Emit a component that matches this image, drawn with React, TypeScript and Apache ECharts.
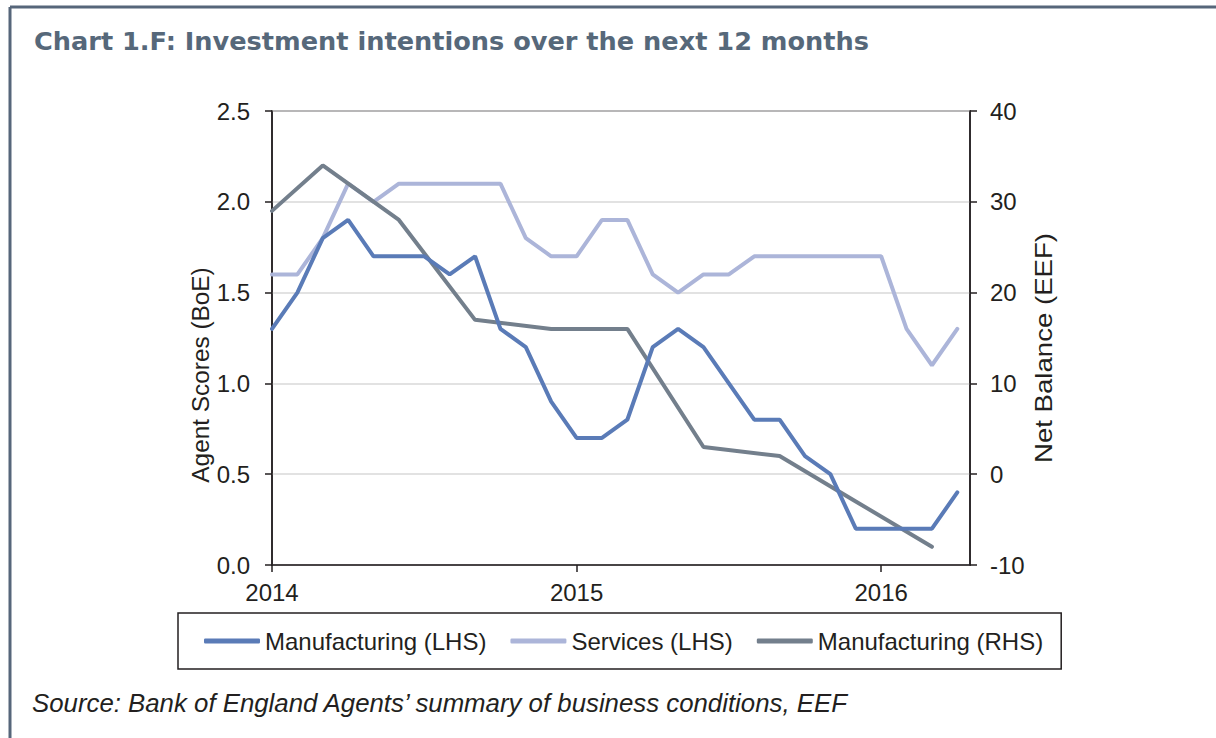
import React, { useEffect, useRef } from "react";
import * as echarts from "echarts";

const months: string[] = [
  "2014-01","2014-02","2014-03","2014-04","2014-05","2014-06","2014-07","2014-08","2014-09","2014-10","2014-11","2014-12",
  "2015-01","2015-02","2015-03","2015-04","2015-05","2015-06","2015-07","2015-08","2015-09","2015-10","2015-11","2015-12",
  "2016-01","2016-02","2016-03","2016-04",
];
const manufacturingLHS: number[] = [
  1.3, 1.5, 1.8, 1.9, 1.7, 1.7, 1.7, 1.6, 1.7, 1.3, 1.2, 0.9,
  0.7, 0.7, 0.8, 1.2, 1.3, 1.2, 1.0, 0.8, 0.8, 0.6, 0.5, 0.2,
  0.2, 0.2, 0.2, 0.4,
];
const servicesLHS: number[] = [
  1.6, 1.6, 1.8, 2.1, 2.0, 2.1, 2.1, 2.1, 2.1, 2.1, 1.8, 1.7,
  1.7, 1.9, 1.9, 1.6, 1.5, 1.6, 1.6, 1.7, 1.7, 1.7, 1.7, 1.7,
  1.7, 1.3, 1.1, 1.3,
];
const manufacturingRHS: (number | null)[] = [
  29, null, 34, null, null, 28, null, null, 17, null, null, 16,
  null, null, 16, null, null, 3, null, null, 2, null, null, -3,
  null, null, -8, null,
];
const yearTicks: number[] = [0, 12, 24];
const yearLabels: Record<number, string> = { 0: "2014", 12: "2015", 24: "2016" };

const FONT = "'Liberation Sans', Arial, sans-serif";
const INK = "#231f20";

export default function App() {
  const ref = useRef<HTMLDivElement>(null);
  useEffect(() => {
    document.body.style.margin = "0";
    const chart = echarts.init(ref.current!, null, { renderer: "svg" });
    const toPairs = (arr: (number | null)[]) =>
      arr.map((v, i) => (v === null ? null : [i, v])).filter((d) => d !== null);
    const option: any = {
      animation: false,
      backgroundColor: "#ffffff",
      textStyle: { fontFamily: FONT },
      title: {
        text: "Chart 1.F: Investment intentions over the next 12 months",
        left: 34,
        top: 28,
        padding: 0,
        textStyle: { fontFamily: "'DejaVu Sans', sans-serif", fontSize: 25.6, fontWeight: "bold", color: "#56687a" },
      },
      graphic: [
        { type: "line", shape: { x1: 10, y1: 7, x2: 1216, y2: 7 }, style: { stroke: "#56667a", lineWidth: 3 } },
        { type: "line", shape: { x1: 10, y1: 7, x2: 10, y2: 738 }, style: { stroke: "#56667a", lineWidth: 3 } },
        {
          type: "text",
          x: 201,
          y: 375,
          rotation: Math.PI / 2,
          scaleX: 1.06,
          style: {
            text: "Agent Scores (BoE)",
            fontFamily: FONT,
            fontSize: 23,
            fill: INK,
            align: "center",
            verticalAlign: "middle",
          },
        },
        {
          type: "text",
          x: 1044,
          y: 348,
          rotation: Math.PI / 2,
          scaleX: 1.2,
          style: {
            text: "Net Balance (EEF)",
            fontFamily: FONT,
            fontSize: 23,
            fill: INK,
            align: "center",
            verticalAlign: "middle",
          },
        },
        {
          type: "text",
          left: 32,
          top: 690,
          style: {
            text: "Source: Bank of England Agents\u2019 summary of business conditions, EEF",
            fontFamily: FONT,
            fontSize: 25.8,
            fontStyle: "italic",
            fill: INK,
          },
        },
      ],
      grid: {
        left: 272,
        right: 1216 - 970,
        top: 111,
        bottom: 738 - 565,
        show: true,
        borderColor: INK,
        borderWidth: 1.5,
        containLabel: false,
      },
      legend: {
        left: 178,
        top: 613,
        orient: "horizontal",
        padding: [16, 18, 16, 26],
        itemGap: 24,
        itemWidth: 56,
        itemHeight: 5,
        icon: "roundRect",
        borderColor: INK,
        borderWidth: 1.5,
        textStyle: { fontFamily: FONT, fontSize: 24, color: INK },
        data: ["Manufacturing (LHS)", "Services (LHS)", "Manufacturing (RHS)"],
      },
      xAxis: {
        type: "value",
        min: 0,
        max: 27.5,
        interval: 12,
        splitLine: { show: false },
        axisLine: { show: true, lineStyle: { color: INK, width: 1.5 } },
        axisTick: { show: true, customValues: yearTicks, length: 7, lineStyle: { color: INK, width: 1.5 } },
        axisLabel: {
          customValues: yearTicks,
          formatter: (v: number) => yearLabels[v] ?? "",
          fontFamily: FONT,
          fontSize: 24,
          color: INK,
          margin: 15,
        },
      },
      yAxis: [
        {
          type: "value",
          min: 0,
          max: 2.5,
          interval: 0.5,
          position: "left",
          axisLine: { show: true, lineStyle: { color: INK, width: 1.5 } },
          axisTick: { show: true, length: 7, lineStyle: { color: INK, width: 1.5 } },
          axisLabel: {
            formatter: (v: number) => v.toFixed(1),
            fontFamily: FONT,
            fontSize: 24,
            color: INK,
            margin: 22,
          },
          splitLine: { show: true, lineStyle: { color: "#d9d9d9", width: 1.5 } },
        },
        {
          type: "value",
          min: -10,
          max: 40,
          interval: 10,
          position: "right",
          axisLine: { show: true, lineStyle: { color: INK, width: 1.5 } },
          axisTick: { show: true, length: 7, lineStyle: { color: INK, width: 1.5 } },
          axisLabel: { fontFamily: FONT, fontSize: 24, color: INK, margin: 20 },
          splitLine: { show: false },
        },
      ],
      series: [
        {
          name: "Manufacturing (LHS)",
          type: "line",
          yAxisIndex: 0,
          symbol: "none",
          color: "#5a7bb7",
          lineStyle: { width: 4, color: "#5a7bb7", cap: "round" },
          data: toPairs(manufacturingLHS),
          z: 4,
        },
        {
          name: "Services (LHS)",
          type: "line",
          yAxisIndex: 0,
          symbol: "none",
          color: "#acb5d9",
          lineStyle: { width: 4, color: "#acb5d9", cap: "round" },
          data: toPairs(servicesLHS),
          z: 2,
        },
        {
          name: "Manufacturing (RHS)",
          type: "line",
          yAxisIndex: 1,
          symbol: "none",
          connectNulls: true,
          color: "#737f8c",
          lineStyle: { width: 4, color: "#737f8c", cap: "round" },
          data: toPairs(manufacturingRHS),
          z: 3,
        },
      ],
    };
    chart.setOption(option);
    return () => chart.dispose();
  }, []);
  return <div ref={ref} style={{ width: 1216, height: 738 }} data-months={months.length} />;
}
